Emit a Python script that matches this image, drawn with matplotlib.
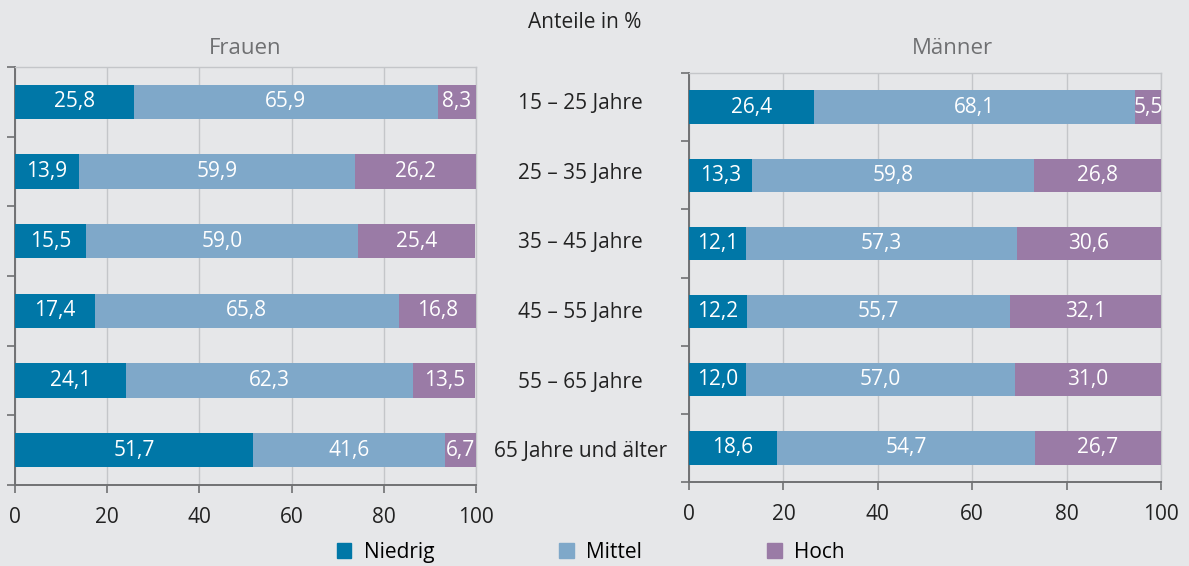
import matplotlib.pyplot as plt
import numpy as np

plt.rcParams["font.family"] = ["Open Sans", "DejaVu Sans"]

# data
age_groups = ["15 – 25 Jahre", "25 – 35 Jahre", "35 – 45 Jahre",
              "45 – 55 Jahre", "55 – 65 Jahre", "65 Jahre und älter"]
series_names = ["Niedrig", "Mittel", "Hoch"]
frauen_niedrig = [25.8, 13.9, 15.5, 17.4, 24.1, 51.7]
frauen_mittel = [65.9, 59.9, 59.0, 65.8, 62.3, 41.6]
frauen_hoch = [8.3, 26.2, 25.4, 16.8, 13.5, 6.7]
maenner_niedrig = [26.4, 13.3, 12.1, 12.2, 12.0, 18.6]
maenner_mittel = [68.1, 59.8, 57.3, 55.7, 57.0, 54.7]
maenner_hoch = [5.5, 26.8, 30.6, 32.1, 31.0, 26.7]
x_ticks = [0, 20, 40, 60, 80, 100]

COLORS = ["#0077a7", "#7fa8c9", "#9a7ba6"]
BG = "#e6e7e9"
GRID = "#c4c6c9"
SPINE = "#707173"
FS = 15


def fmt(v):
    return f"{v:.1f}".replace(".", ",")


def draw_panel(ax, parts):
    ax.set_facecolor(BG)
    y = np.arange(len(age_groups))
    left = np.zeros(len(age_groups))
    for vals, color in zip(parts, COLORS):
        vals = np.array(vals)
        ax.barh(y, vals, left=left, height=0.49, color=color, zorder=3)
        for yi, (l, v) in enumerate(zip(left, vals)):
            ax.text(l + v / 2, yi, fmt(v), ha="center", va="center",
                    color="white", fontsize=FS, zorder=4)
        left = left + vals
    ax.set_xlim(0, 100)
    ax.set_ylim(len(age_groups) - 0.5, -0.5)
    ax.set_xticks(x_ticks)
    ax.set_xticklabels([str(t) for t in x_ticks], fontsize=FS, color="#222222")
    ax.set_yticks([])
    ax.set_yticks(np.arange(len(age_groups) + 1) - 0.5, minor=True)
    ax.tick_params(axis="y", which="minor", length=6, width=1.2, color=SPINE,
                   direction="out")
    ax.tick_params(axis="x", length=6, width=1.2, color=SPINE, pad=10)
    ax.xaxis.grid(True, color=GRID, linewidth=1, zorder=0)
    for side in ["left", "bottom"]:
        ax.spines[side].set_color(SPINE)
        ax.spines[side].set_linewidth(1.4)
    for side in ["top", "right"]:
        ax.spines[side].set_color(GRID)
        ax.spines[side].set_linewidth(1)


fig = plt.figure(figsize=(11.89, 5.66), dpi=100, facecolor=BG)
ax_f = fig.add_axes([0.0126, 0.1431, 0.3877, 0.7385])
ax_m = fig.add_axes([0.5795, 0.1484, 0.3970, 0.7226])

draw_panel(ax_f, [frauen_niedrig, frauen_mittel, frauen_hoch])
draw_panel(ax_m, [maenner_niedrig, maenner_mittel, maenner_hoch])

fig.text(0.206, 0.915, "Frauen", ha="center", va="center", fontsize=16,
         color="#6f7072")
fig.text(0.801, 0.915, "Männer", ha="center", va="center", fontsize=16,
         color="#6f7072")
fig.text(0.492, 0.961, "Anteile in %", ha="center", va="center",
         fontsize=FS, color="#222222")

# category labels placed between the panels, aligned with the left panel's rows
for i, name in enumerate(age_groups):
    xd, yd = ax_f.transData.transform((100, i))
    _, yf = fig.transFigure.inverted().transform((xd, yd))
    fig.text(0.488, yf - 0.003, name, ha="center", va="center", fontsize=FS,
             color="#222222")

# legend
handles = [plt.Rectangle((0, 0), 1, 1, color=c) for c in COLORS]
fig.legend(handles, series_names, loc="center", bbox_to_anchor=(0.497, 0.024),
           ncol=3, frameon=False, fontsize=FS, handlelength=0.7,
           handleheight=0.7, columnspacing=6.0, handletextpad=0.6)

fig.savefig("out.png", dpi=100, facecolor=BG)
